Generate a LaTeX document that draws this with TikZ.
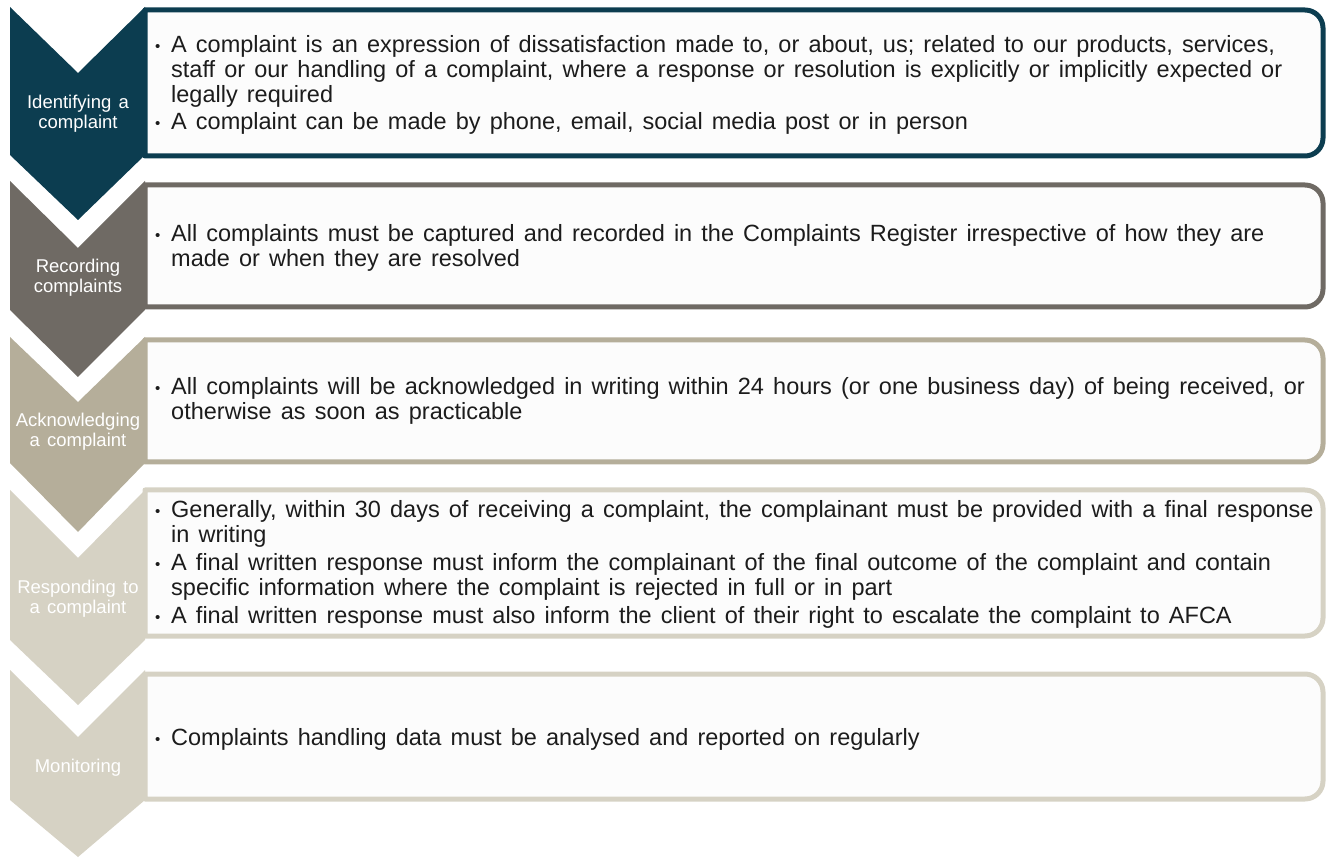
\documentclass[tikz,border=0pt]{standalone}
\usepackage{fontspec}
\setmainfont{Liberation Sans}[WordSpace=1.4]
\definecolor{stepteal}{RGB}{12,61,80}
\definecolor{stepgrey}{RGB}{111,106,100}
\definecolor{steptan}{RGB}{181,174,154}
\definecolor{steplight}{RGB}{214,210,196}
\definecolor{panelfill}{RGB}{252,252,252}
\definecolor{bodytext}{RGB}{28,28,28}
\tikzset{
  chev/.style = {fill=#1, draw=none},
  panel/.style = {draw=#1, fill=panelfill, line width=5pt, line join=round},
  lbl/.style = {align=center, inner sep=0pt, text=white, font=\fontsize{18.5}{20}\selectfont},
  body/.style = {align=left, inner sep=0pt, anchor=base west, text=bodytext, font=\fontsize{23.5}{25}\selectfont},
}
\newcommand{\bul}{\makebox[16pt][l]{\raisebox{1pt}{\fontsize{15}{15}\selectfont\textbullet}}}
\newcommand{\cont}{\hspace*{16pt}}

\begin{document}
\begin{tikzpicture}[x=1pt, y=-1pt]
  \useasboundingbox (0,0) rectangle (1326,858);

  % panels
  \draw[panel=stepteal] (145,10) -- (1305,10) arc[start angle=270, end angle=360, radius=18]
    -- (1323,138) arc[start angle=0, end angle=90, radius=18] -- (145,156) -- cycle;
  \draw[panel=stepgrey] (145,185) -- (1305,185) arc[start angle=270, end angle=360, radius=18]
    -- (1323,289) arc[start angle=0, end angle=90, radius=18] -- (145,307) -- cycle;
  \draw[panel=steptan] (145,340) -- (1305,340) arc[start angle=270, end angle=360, radius=18]
    -- (1323,444) arc[start angle=0, end angle=90, radius=18] -- (145,462) -- cycle;
  \draw[panel=steplight] (145,490) -- (1305,490) arc[start angle=270, end angle=360, radius=18]
    -- (1323,618) arc[start angle=0, end angle=90, radius=18] -- (145,636) -- cycle;
  \draw[panel=steplight] (145,674) -- (1305,674) arc[start angle=270, end angle=360, radius=18]
    -- (1323,781) arc[start angle=0, end angle=90, radius=18] -- (145,799) -- cycle;

  % chevrons
  \fill[chev=stepteal] (10,7) -- (78,73) -- (145,7) -- (145,155) -- (78,220) -- (10,155) -- cycle;
  \fill[chev=stepgrey] (10,181) -- (78,248) -- (145,181) -- (145,310) -- (78,377) -- (10,310) -- cycle;
  \fill[chev=steptan] (10,337) -- (78,402) -- (145,337) -- (145,463) -- (78,532) -- (10,463) -- cycle;
  \fill[chev=steplight] (10,490) -- (78,558) -- (145,490) -- (145,640) -- (78,705) -- (10,640) -- cycle;
  \fill[chev=steplight] (10,670) -- (78,737) -- (145,670) -- (145,800) -- (78,857) -- (10,800) -- cycle;

  % step labels
  \node[lbl] (identify) at (78,114) {Identifying a\\complaint};
  \node[lbl] (record) at (78,278) {Recording\\complaints};
  \node[lbl] (acknowledge) at (78,432) {Acknowledging\\a complaint};
  \node[lbl] (respond) at (78,599) {Responding to\\a complaint};
  \node[lbl] (monitor) at (78,768) {Monitoring};

  % panel texts (anchored on the baseline of their last line)
  \node[body] (identifytxt) at (155,130) {\bul A complaint is an expression of dissatisfaction made to, or about, us; related to our products, services,\\
    \cont staff or our handling of a complaint, where a response or resolution is explicitly or implicitly expected or\\
    \cont legally required\\[2pt]
    \bul A complaint can be made by phone, email, social media post or in person};
  \node[body] (recordtxt) at (155,267) {\bul All complaints must be captured and recorded in the Complaints Register irrespective of how they are\\
    \cont made or when they are resolved};
  \node[body] (acknowledgetxt) at (155,420) {\bul All complaints will be acknowledged in writing within 24 hours (or one business day) of being received, or\\
    \cont otherwise as soon as practicable};
  \node[body] (respondtxt) at (155,623) {\bul Generally, within 30 days of receiving a complaint, the complainant must be provided with a final response\\
    \cont in writing\\[3pt]
    \bul A final written response must inform the complainant of the final outcome of the complaint and contain\\
    \cont specific information where the complaint is rejected in full or in part\\[3pt]
    \bul A final written response must also inform the client of their right to escalate the complaint to AFCA};
  \node[body] (monitortxt) at (155,745) {\bul Complaints handling data must be analysed and reported on regularly};
\end{tikzpicture}
\end{document}
